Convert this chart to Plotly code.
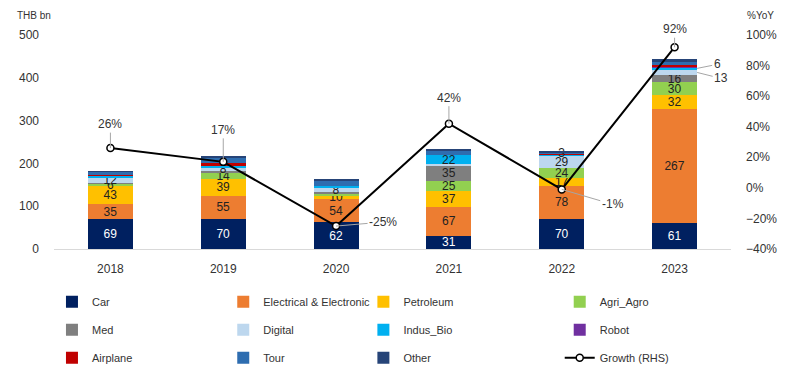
import plotly.graph_objects as go

years = ["2018", "2019", "2020", "2021", "2022", "2023"]

car = [69, 70, 62, 31, 70, 61]
electrical = [35, 55, 54, 67, 78, 267]
petroleum = [43, 39, 10, 37, 17, 32]
agri = [6, 14, 4, 25, 24, 30]
med = [2, 4, 4, 35, 0, 16]
digital = [12, 8, 8, 3, 29, 13]
indus_bio = [4, 6, 5, 22, 3, 6]
robot = [0, 0, 0, 0, 0, 2]
airplane = [2, 4, 0, 0, 2, 2]
tour = [7, 14, 14, 10, 3, 10]
other = [2, 4, 3, 4, 3, 4]

growth = [26, 17, -25, 42, -1, 92]

# which values get an inside label
car_lbl = [True] * 6
ee_lbl = [True] * 6
pet_lbl = [True] * 6
agri_lbl = [True, True, False, True, True, True]
med_lbl = [False, False, False, True, False, True]
dig_lbl = [True, True, True, False, True, False]
ind_lbl = [False, False, False, True, False, False]
tour_lbl = [False, False, False, False, True, False]

FONT = "Liberation Sans"

series = [
    ("Car", car, "#002060", car_lbl, "white", "legend"),
    ("Electrical & Electronic", electrical, "#ED7D31", ee_lbl, "#222", "legend2"),
    ("Petroleum", petroleum, "#FFC000", pet_lbl, "#222", "legend3"),
    ("Agri_Agro", agri, "#92D050", agri_lbl, "#222", "legend4"),
    ("Med", med, "#7F7F7F", med_lbl, "#222", "legend"),
    ("Digital", digital, "#BDD7EE", dig_lbl, "#222", "legend2"),
    ("Indus_Bio", indus_bio, "#00B0F0", ind_lbl, "#222", "legend3"),
    ("Robot", robot, "#7030A0", [False] * 6, "#222", "legend4"),
    ("Airplane", airplane, "#C00000", [False] * 6, "#222", "legend"),
    ("Tour", tour, "#2E6DB0", tour_lbl, "#222", "legend2"),
    ("Other", other, "#264478", [False] * 6, "#222", "legend3"),
]

fig = go.Figure()
for name, vals, color, lbl, tcol, lg in series:
    fig.add_trace(go.Bar(
        x=years, y=vals, name=name, marker=dict(color=color, line=dict(width=0)),
        text=[str(v) if l else "" for v, l in zip(vals, lbl)],
        textposition="inside", insidetextanchor="middle", textangle=0,
        textfont=dict(color=tcol, size=12, family=FONT),
        legend=lg, legendgroup=name, width=0.4,
    ))

fig.add_trace(go.Scatter(
    x=years, y=growth, name="Growth (RHS)", yaxis="y2", mode="lines+markers",
    line=dict(color="black", width=2),
    marker=dict(size=7, color="white", line=dict(color="black", width=1.5)),
    legend="legend4", legendgroup="growth",
))

# growth labels
g_off = [(0, -24), (0, -32), (47, -4), (0, -26), (51, 15), (0, -18)]
for i, (g, (ax, ay)) in enumerate(zip(growth, g_off)):
    fig.add_annotation(x=i, y=g, xref="x", yref="y2", text=f"{g}%", showarrow=True,
                       arrowhead=0, arrowwidth=1, arrowcolor="#A6A6A6", ax=ax, ay=ay,
                       font=dict(size=12, color="#333", family=FONT))

# outside labels for 2023 thin segments
base23 = car[5] + electrical[5] + petroleum[5] + agri[5] + med[5]
fig.add_annotation(x=5.2, y=base23 + digital[5] / 2, xref="x", yref="y", text=str(digital[5]),
                   showarrow=True, arrowhead=0, arrowwidth=1, arrowcolor="#A6A6A6",
                   ax=24, ay=6, font=dict(size=12, color="#333", family=FONT))
fig.add_annotation(x=5.2, y=base23 + digital[5] + indus_bio[5] / 2, xref="x", yref="y",
                   text=str(indus_bio[5]), showarrow=True, arrowhead=0, arrowwidth=1,
                   arrowcolor="#A6A6A6", ax=20, ay=-4, font=dict(size=12, color="#333", family=FONT))

fig.add_annotation(x=-0.058, y=1.092, xref="paper", yref="paper", text="THB bn", showarrow=False,
                   font=dict(size=10, color="#333", family=FONT), xanchor="left", yanchor="middle")
fig.add_annotation(x=1.066, y=1.092, xref="paper", yref="paper", text="%YoY", showarrow=False,
                   font=dict(size=10, color="#333", family=FONT), xanchor="right", yanchor="middle")

legend_common = dict(orientation="v", yanchor="top", y=-0.179, xanchor="left",
                     font=dict(size=11, color="#333", family=FONT), tracegroupgap=9,
                     bgcolor="rgba(0,0,0,0)", itemwidth=30)

fig.update_layout(
    width=789, height=371,
    margin=dict(l=54, r=58, t=35, b=122, autoexpand=False),
    barmode="stack",
    plot_bgcolor="white", paper_bgcolor="white",
    font=dict(family=FONT, size=12, color="#444"),
    uniformtext=dict(minsize=12, mode="show"),
    xaxis=dict(showline=True, linecolor="#D9D9D9", linewidth=1, ticks="", automargin=False,
               tickfont=dict(size=12, color="#333"), ticklabelstandoff=9),
    yaxis=dict(range=[0, 500], dtick=100, showgrid=False, zeroline=False, showline=False,
               automargin=False, tickfont=dict(size=12, color="#333"), ticklabelstandoff=14),
    yaxis2=dict(range=[-40, 100], dtick=20, overlaying="y", side="right", showgrid=False,
                zeroline=False, showline=False, ticksuffix="%", automargin=False,
                tickfont=dict(size=12, color="#333"), ticklabelstandoff=14),
    legend=dict(**legend_common, x=-0.003),
    legend2=dict(**legend_common, x=0.250),
    legend3=dict(**legend_common, x=0.457),
    legend4=dict(**legend_common, x=0.747),
    showlegend=True,
)

fig.write_html("out.html", config={"displayModeBar": False},
               post_script="document.body.style.margin='0';")
